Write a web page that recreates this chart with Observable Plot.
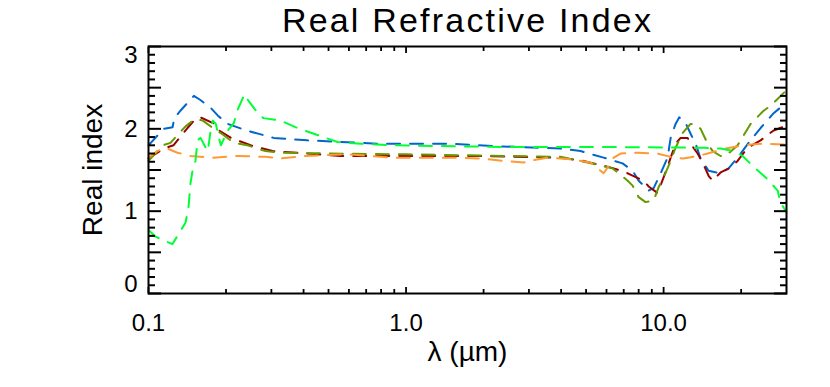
<!DOCTYPE html>
<html>
<head>
<meta charset="utf-8">
<script src="https://cdn.jsdelivr.net/npm/d3@7"></script>
<script src="https://cdn.jsdelivr.net/npm/@observablehq/plot@0.6"></script>
<style>
  html, body { margin: 0; padding: 0; background: white; }
  .title-text text { letter-spacing: 2.2px; }
</style>
</head>
<body>
<div id="chart"></div>
<script>
// ---- Data (wavelength in µm, real refractive index) ----
const wlBlue = [0.100,0.1144,0.124,0.126,0.133,0.150,0.159,0.175,0.186,0.203,0.240,0.306,0.414,0.774,1.49,2.19,2.75,3.33,3.98,4.76,5.85,6.93,7.58,8.00,8.75,9.15,9.74,10.36,10.65,11.13,11.5,12.18,12.73,13.31,13.92,14.95,16.64,17.88,19.38,21.38,23.80,26.74,30.0];
const nBlue  = [1.80,2.00,2.02,2.13,2.22,2.40,2.35,2.25,2.16,2.06,1.98,1.89,1.86,1.82,1.82,1.79,1.78,1.77,1.76,1.73,1.65,1.58,1.49,1.37,1.25,1.28,1.46,1.65,1.89,2.06,2.14,2.07,1.94,1.82,1.64,1.49,1.46,1.52,1.65,1.83,2.01,2.19,2.32];

const wlRed = [0.100,0.1144,0.125,0.1367,0.1417,0.152,0.159,0.178,0.188,0.209,0.249,0.303,0.414,0.556,1.0,2.0,3.98,4.89,5.85,6.40,7.25,8.36,8.75,9.48,10.0,10.46,11.13,11.64,12.39,12.73,13.55,14.17,14.95,15.50,16.64,18.20,19.38,21.19,23.80,26.74,30.0];
const nRed  = [1.64,1.76,1.80,1.95,2.01,2.12,2.14,2.07,1.98,1.89,1.80,1.73,1.70,1.67,1.67,1.67,1.65,1.61,1.55,1.52,1.46,1.37,1.30,1.22,1.41,1.58,1.82,1.89,1.89,1.82,1.70,1.59,1.43,1.37,1.47,1.53,1.61,1.77,1.86,1.98,2.04];

const wlOlive = [0.100,0.1134,0.1217,0.1355,0.1404,0.152,0.1625,0.176,0.1925,0.2145,0.242,0.2845,0.325,0.509,1.0,3.98,5.07,6.34,7.25,7.58,8.00,8.51,9.15,9.56,10.0,10.65,11.13,11.85,12.73,13.31,13.92,14.82,15.50,16.64,17.41,19.38,20.45,21.76,24.45,26.03,30.0];
const nOlive  = [1.61,1.80,1.83,1.99,2.04,2.12,2.10,2.02,1.94,1.83,1.80,1.73,1.71,1.70,1.69,1.66,1.59,1.52,1.37,1.31,1.17,1.11,1.13,1.29,1.41,1.61,1.77,1.95,2.06,2.06,2.00,1.82,1.73,1.67,1.67,1.80,1.92,2.06,2.22,2.28,2.47];

const wlOrange = [0.100,0.1084,0.1164,0.1296,0.1456,0.178,0.2224,0.2845,0.325,0.3995,0.592,0.894,1.49,1.95,2.39,2.86,2.99,3.55,4.36,5.21,5.85,6.06,6.40,6.81,7.93,9.48,10.94,11.95,13.55,14.82,17.41,20.27,24.45,30.0];
const nOrange  = [1.65,1.73,1.77,1.71,1.67,1.65,1.67,1.66,1.64,1.67,1.69,1.65,1.65,1.64,1.61,1.59,1.61,1.65,1.63,1.59,1.46,1.53,1.65,1.70,1.71,1.70,1.65,1.64,1.67,1.70,1.76,1.80,1.82,1.81];

const wlGreen = [0.100,0.1065,0.1239,0.1355,0.1392,0.1430,0.1456,0.1482,0.1522,0.1550,0.1592,0.1669,0.1700,0.1746,0.1778,0.1826,0.1876,0.1910,0.2032,0.2145,0.2224,0.2358,0.2445,0.2673,0.2795,0.3253,0.3789,0.457,0.542,0.665,0.894,2.33,5.69,14.30,16.64,18.69,20.27,22.35,24.89,27.73,28.46,30.0];
const nGreen  = [0.77,0.69,0.60,0.80,0.86,1.05,1.34,1.49,1.61,1.86,1.89,1.77,1.73,2.00,2.10,2.06,1.89,1.80,1.98,2.07,2.24,2.42,2.34,2.18,2.13,2.10,2.01,1.92,1.84,1.82,1.80,1.78,1.78,1.77,1.76,1.73,1.67,1.54,1.41,1.25,1.10,0.99];

const seriesNames  = ["blue", "red", "olive", "orange", "green"];
const seriesColors = ["#0066cc", "#990000", "#669900", "#ff9933", "#00ff33"];
const seriesWl = [wlBlue, wlRed, wlOlive, wlOrange, wlGreen];
const seriesN  = [nBlue, nRed, nOlive, nOrange, nGreen];

// Axis ticks / labels
const xMajorTicks = [0.1, 1, 10];
const xMinorTicks = [0.2,0.3,0.4,0.5,0.6,0.7,0.8,0.9,2,3,4,5,6,7,8,9,20];
const xTickLabels = ["0.1", "1.0", "10.0"];
const yMajorTicks = [0, 0.5, 1, 1.5, 2, 2.5, 3];
const yMinorTicks = d3.range(0, 30).map(i => i / 10).filter(v => Math.round(v * 10) % 5 !== 0);
const yTickLabels = [0, 1, 2, 3];

const titleText = "Real Refractive Index";
const xLabelText = "λ (µm)";
const yLabelText = "Real index";

// ---- Build table ----
const rows = seriesNames.flatMap((name, k) =>
  seriesWl[k].map((w, i) => ({series: name, wl: w, n: seriesN[k][i]}))
);
const xLabelRows = xMajorTicks.map((v, i) => ({v, label: xTickLabels[i]}));

const font = "'Liberation Sans', Arial, Helvetica, sans-serif";
const ink = "black";

const lineMarks = seriesNames.map((name, k) =>
  Plot.line(rows.filter(d => d.series === name), {
    x: "wl", y: "n", stroke: seriesColors[k], strokeWidth: 2,
    strokeDasharray: "13,10"
  })
);

const tickMarks = [
  Plot.axisX(xMajorTicks, {anchor: "bottom", tickSize: -6, stroke: ink, strokeWidth: 1.8, fill: "none"}),
  Plot.axisX(xMinorTicks, {anchor: "bottom", tickSize: -4, stroke: ink, strokeWidth: 1.8, fill: "none"}),
  Plot.axisX(xMajorTicks, {anchor: "top", tickSize: -6, stroke: ink, strokeWidth: 1.8, fill: "none"}),
  Plot.axisX(xMinorTicks, {anchor: "top", tickSize: -4, stroke: ink, strokeWidth: 1.8, fill: "none"}),
  Plot.axisY(yMajorTicks, {anchor: "left", tickSize: -13, stroke: ink, strokeWidth: 2, fill: "none"}),
  Plot.axisY(yMinorTicks, {anchor: "left", tickSize: -7, stroke: ink, strokeWidth: 2, fill: "none"}),
  Plot.axisY(yMajorTicks, {anchor: "right", tickSize: -13, stroke: ink, strokeWidth: 2, fill: "none"}),
  Plot.axisY(yMinorTicks, {anchor: "right", tickSize: -7, stroke: ink, strokeWidth: 2, fill: "none"})
];

const labelMarks = [
  // x tick labels
  Plot.text(xLabelRows, {x: "v", text: "label", frameAnchor: "bottom", lineAnchor: "middle", dy: 30, fontSize: 24, fill: ink}),
  // y tick labels (edge labels nudged inward as in the reference)
  Plot.text(yTickLabels.filter(v => v === 1 || v === 2), {y: d => d, text: d => String(d), frameAnchor: "left", dx: -11, textAnchor: "end", fontSize: 24, fill: ink}),
  Plot.text(yTickLabels.filter(v => v === 0), {y: d => d, text: d => String(d), frameAnchor: "left", dx: -11, dy: -9, textAnchor: "end", fontSize: 24, fill: ink}),
  Plot.text(yTickLabels.filter(v => v === 3), {y: d => d, text: d => String(d), frameAnchor: "left", dx: -11, dy: 9, textAnchor: "end", fontSize: 24, fill: ink}),
  // titles
  Plot.text([titleText], {frameAnchor: "top", lineAnchor: "middle", dy: -25, fontSize: 34, fill: ink, className: "title-text"}),
  Plot.text([xLabelText], {frameAnchor: "bottom", lineAnchor: "middle", dy: 59, fontSize: 28, fill: ink}),
  Plot.text([yLabelText], {frameAnchor: "left", textAnchor: "middle", lineAnchor: "middle", dx: -55, rotate: -90, fontSize: 28, fill: ink})
];

const chart = Plot.plot({
  width: 830,
  height: 387,
  marginLeft: 148,
  marginRight: 44,
  marginTop: 46,
  marginBottom: 94,
  style: {fontFamily: font, background: "white", color: ink, overflow: "visible"},
  x: {type: "log", domain: [0.1, 30]},
  y: {domain: [0, 3]},
  marks: [
    ...lineMarks,
    ...tickMarks,
    Plot.frame({stroke: ink, strokeWidth: 2}),
    ...labelMarks
  ]
});
document.getElementById("chart").appendChild(chart);
</script>
</body>
</html>
